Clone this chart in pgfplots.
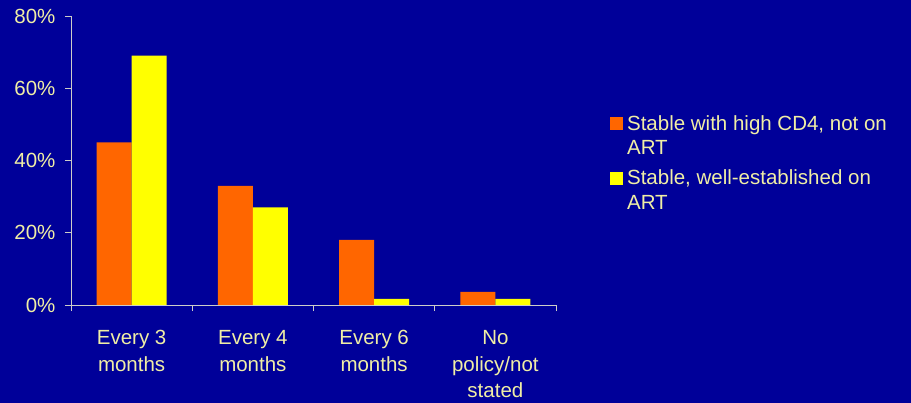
\documentclass[border=0pt]{standalone}
\usepackage{pgfplots}
\pgfplotsset{compat=1.18}
\usepackage{fontspec}
\setmainfont{Liberation Sans}

\definecolor{bgblue}{RGB}{0,0,153}
\definecolor{barorange}{RGB}{255,102,0}
\definecolor{baryellow}{RGB}{255,255,0}
\definecolor{txtcream}{RGB}{240,238,165}
\definecolor{axisgray}{RGB}{205,205,200}

\begin{document}
\begin{tikzpicture}
  \useasboundingbox (0,0) rectangle (911bp,403bp);
  \fill[bgblue] (0,0) rectangle (911bp,403bp);
  \begin{axis}[
    at={(71bp,98bp)}, anchor=south west,
    scale only axis,
    width=485bp, height=289bp,
    ybar=0pt, bar width=35bp,
    xmin=-0.5, xmax=3.5,
    ymin=0, ymax=80,
    axis x line=bottom, axis y line=left,
    axis line style={-, draw=axisgray, line width=0.8pt},
    xtick={0,1,2,3},
    xticklabels={Every 3\\months, Every 4\\months, Every 6\\months, No\\policy/not\\stated},
    major x tick style={draw=none},
    minor xtick={-0.5,0.5,1.5,2.5,3.5},
    minor x tick style={draw=axisgray, line width=0.8pt},
    xtick align=outside, ytick align=outside,
    minor tick length=6bp, major tick length=6bp,
    ytick={0,20,40,60,80},
    y tick style={draw=axisgray, line width=0.8pt},
    yticklabel={\pgfmathprintnumber{\tick}\%},
    /pgf/number format/assume math mode=true,
    tick label style={text=txtcream, font=\fontsize{20.5bp}{26.5bp}\selectfont},
    xticklabel style={align=center, yshift=-16bp},
    yticklabel style={xshift=-6bp},
    legend style={
      at={(axis description cs:1.105,0.671)}, anchor=north west,
      draw=none, fill=none, text=txtcream,
      font=\fontsize{20.5bp}{24.5bp}\selectfont,
      cells={anchor=west, align=left},
      row sep=10bp,
    },
    legend image code/.code={%
      \path[draw=none, fill=none] (0bp,-18.5bp) rectangle (15bp,18.5bp);
      \fill[#1] (0bp,5.5bp) rectangle (13bp,18.5bp);},
  ]
    \addplot[fill=barorange, draw=none] coordinates {(0,45) (1,33) (2,18) (3,3.6)};
    \addlegendentry{Stable with high CD4, not on\\ART}
    \addplot[fill=baryellow, draw=none] coordinates {(0,69) (1,27) (2,1.7) (3,1.7)};
    \addlegendentry{Stable, well-established on\\ART}
  \end{axis}
\end{tikzpicture}
\end{document}
